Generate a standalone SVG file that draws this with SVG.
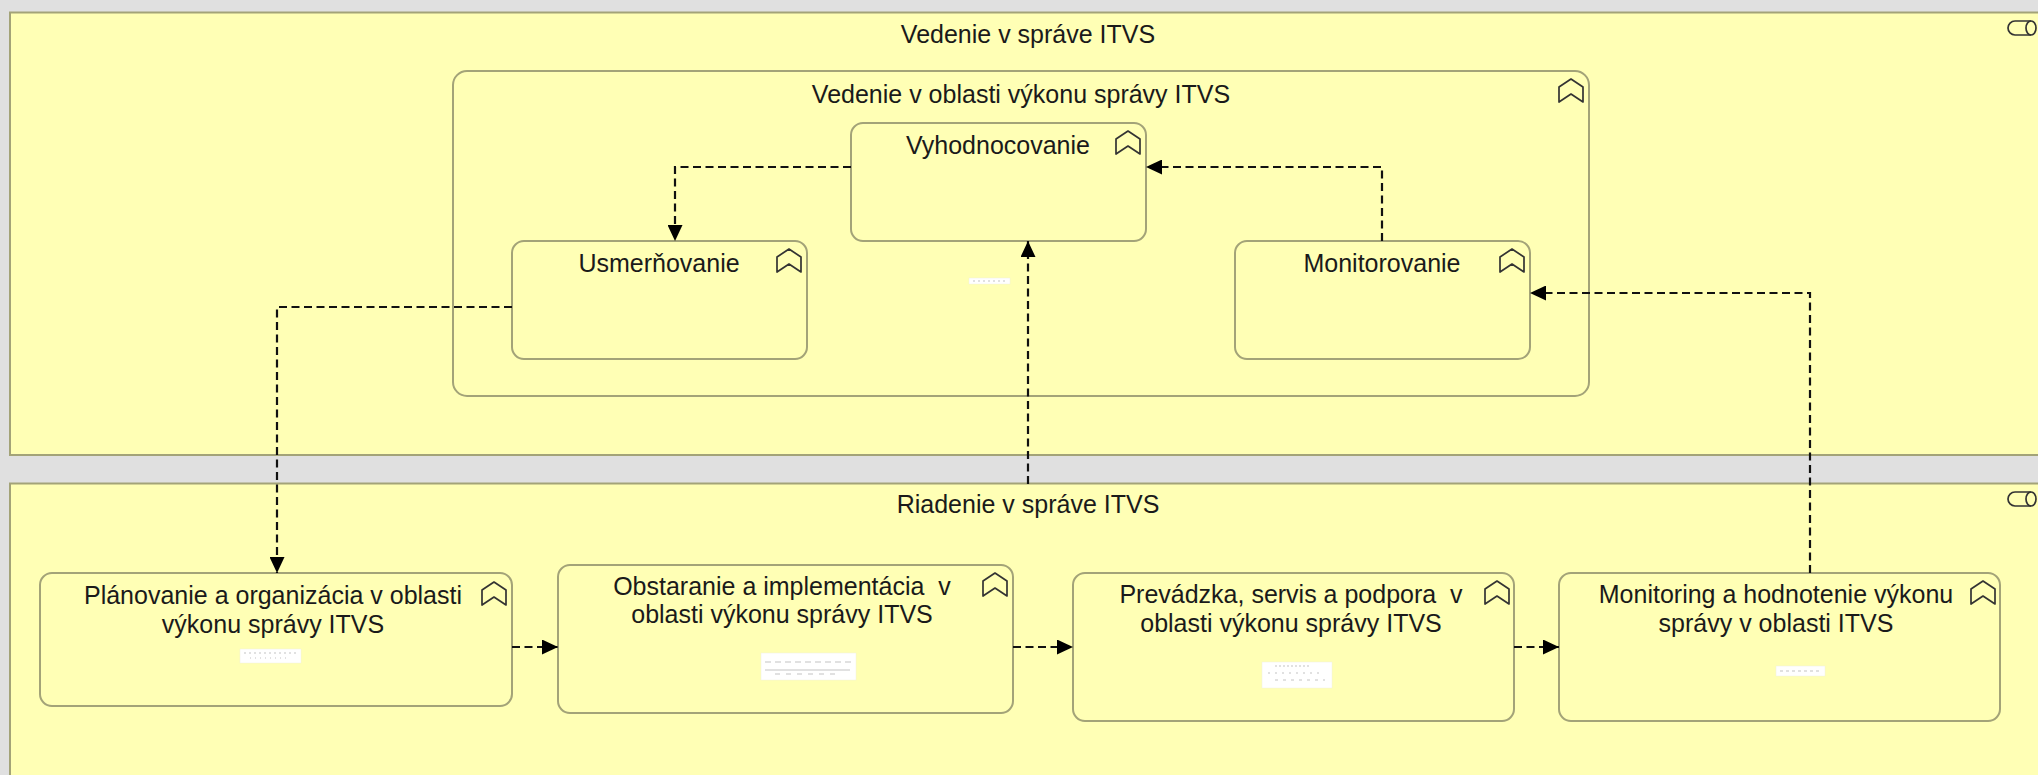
<svg xmlns="http://www.w3.org/2000/svg" width="2038" height="775" viewBox="0 0 2038 775">
<defs>
<style>
.bg{fill:#e0e0e0}
.box{fill:#ffffb5;stroke:#a3a378;stroke-width:2}
.txt{font-family:"Liberation Sans",Arial,sans-serif;font-size:25px;fill:#1a1a1a;text-anchor:middle}
.icon{fill:none;stroke:#333;stroke-width:1.7;stroke-linejoin:round}
.flow{fill:none;stroke:#111;stroke-width:2.2;stroke-dasharray:8 4.5}
.img{fill:#ffffff;stroke:#f0f0e0;stroke-width:0.5}
.imgl{stroke:#9a9a9a;stroke-width:0.6}
</style>
<marker id="arr" markerUnits="userSpaceOnUse" markerWidth="17" markerHeight="15" refX="16" refY="7.5" orient="auto">
<path d="M0,0 L16,7.5 L0,15 Z" fill="#000"/>
</marker>
<path id="fn" d="M12,0 L24,8 L24,23 L12,15 L0,23 L0,8 Z"/>
</defs>
<rect class="bg" x="0" y="0" width="2038" height="775"/>

<g id="vedenie-sprava">
<rect class="box" x="10" y="12.5" width="2045" height="442.5"/>
<text class="txt" x="1028" y="43">Vedenie v správe ITVS</text>
<path class="icon" d="M2015,21 H2031 M2015,35 H2031 M2015,21 A7,7 0 0 0 2015,35"/>
<ellipse class="icon" cx="2031" cy="28" rx="5" ry="7"/>
</g>

<g id="riadenie-sprava">
<rect class="box" x="10" y="483.5" width="2045" height="320"/>
<text class="txt" x="1028" y="513">Riadenie v správe ITVS</text>
<path class="icon" d="M2015,492 H2031 M2015,506 H2031 M2015,492 A7,7 0 0 0 2015,506"/>
<ellipse class="icon" cx="2031" cy="499" rx="5" ry="7"/>
</g>

<g id="vedenie-oblast">
<rect class="box" x="453" y="71" width="1136" height="325" rx="14"/>
<text class="txt" x="1021" y="103">Vedenie v oblasti výkonu správy ITVS</text>
<use href="#fn" class="icon" x="1559" y="79"/>
</g>

<g id="vyhodnocovanie">
<rect class="box" x="851" y="123" width="295" height="118" rx="12"/>
<text class="txt" x="998" y="154">Vyhodnocovanie</text>
<use href="#fn" class="icon" x="1116" y="131"/>
</g>

<g id="usmernovanie">
<rect class="box" x="512" y="241" width="295" height="118" rx="12"/>
<text class="txt" x="659" y="272">Usmerňovanie</text>
<use href="#fn" class="icon" x="777" y="249"/>
</g>

<g id="monitorovanie">
<rect class="box" x="1235" y="241" width="295" height="118" rx="12"/>
<text class="txt" x="1382" y="272">Monitorovanie</text>
<use href="#fn" class="icon" x="1500" y="249"/>
</g>

<g id="mid-label">
<rect class="img" x="969" y="278" width="41" height="6"/>
<line class="imgl" x1="973" y1="281" x2="1005" y2="281" stroke-dasharray="2 3"/>
</g>

<g id="planovanie">
<rect class="box" x="40" y="573" width="472" height="133" rx="12"/>
<text class="txt" x="273" y="604">Plánovanie a organizácia v oblasti</text>
<text class="txt" x="273" y="633">výkonu správy ITVS</text>
<use href="#fn" class="icon" x="482" y="582"/>
<rect class="img" x="240" y="649" width="61" height="14"/>
<line class="imgl" x1="244" y1="653" x2="297" y2="653" stroke-dasharray="2 3"/>
<line class="imgl" x1="250" y1="658" x2="290" y2="658" stroke-dasharray="1 4"/>
</g>

<g id="obstaranie">
<rect class="box" x="558" y="565" width="455" height="148" rx="12"/>
<text class="txt" x="782" y="595" xml:space="preserve">Obstaranie a implementácia  v</text>
<text class="txt" x="782" y="623">oblasti výkonu správy ITVS</text>
<use href="#fn" class="icon" x="983" y="573"/>
<rect class="img" x="761" y="653" width="95" height="27"/>
<line class="imgl" x1="765" y1="662" x2="852" y2="662" stroke-dasharray="6 4"/>
<line class="imgl" x1="765" y1="670" x2="850" y2="670"/>
<line class="imgl" x1="775" y1="674" x2="835" y2="674" stroke-dasharray="5 6"/>
</g>

<g id="prevadzka">
<rect class="box" x="1073" y="573" width="441" height="148" rx="12"/>
<text class="txt" x="1291" y="603" xml:space="preserve">Prevádzka, servis a podpora  v</text>
<text class="txt" x="1291" y="632">oblasti výkonu správy ITVS</text>
<use href="#fn" class="icon" x="1485" y="581"/>
<rect class="img" x="1262" y="662" width="70" height="26"/>
<line class="imgl" x1="1275" y1="666" x2="1310" y2="666" stroke-dasharray="2 2"/>
<line class="imgl" x1="1268" y1="673" x2="1320" y2="673" stroke-dasharray="2 5"/>
<line class="imgl" x1="1275" y1="680" x2="1325" y2="680" stroke-dasharray="3 5"/>
</g>

<g id="monitoring">
<rect class="box" x="1559" y="573" width="441" height="148" rx="12"/>
<text class="txt" x="1776" y="603">Monitoring a hodnotenie výkonu</text>
<text class="txt" x="1776" y="632">správy v oblasti ITVS</text>
<use href="#fn" class="icon" x="1971" y="581"/>
<rect class="img" x="1776" y="666" width="49" height="10"/>
<line class="imgl" x1="1780" y1="671" x2="1821" y2="671" stroke-dasharray="3 3"/>
</g>

<g id="connectors">
<path class="flow" d="M851,167 H675 V241" marker-end="url(#arr)"/>
<path class="flow" d="M512,307 H277 V573" marker-end="url(#arr)"/>
<path class="flow" d="M1382,241 V167 H1146" marker-end="url(#arr)"/>
<path class="flow" d="M1810,573 V293 H1530" marker-end="url(#arr)"/>
<path class="flow" d="M1028,484 V241" marker-end="url(#arr)"/>
<path class="flow" d="M512,647 H558" marker-end="url(#arr)"/>
<path class="flow" d="M1013,647 H1073" marker-end="url(#arr)"/>
<path class="flow" d="M1514,647 H1559" marker-end="url(#arr)"/>
</g>
</svg>
